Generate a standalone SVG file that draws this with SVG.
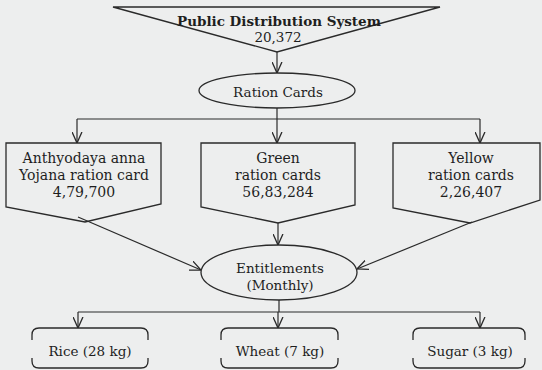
<svg xmlns="http://www.w3.org/2000/svg" width="542" height="370" viewBox="0 0 542 370">
<defs>
<marker id="arr" viewBox="0 0 10 10" refX="10" refY="5" markerWidth="11" markerHeight="11" markerUnits="userSpaceOnUse" orient="auto">
<path d="M0,0.5 L10,5 L0,9.5" fill="none" stroke="#2a2a2a" stroke-width="1.2"/>
</marker>
<style>
.s{fill:none;stroke:#2a2a2a;stroke-width:1.3;stroke-linejoin:miter}
.c{fill:none;stroke:#2a2a2a;stroke-width:1.2}
.t{font-family:"DejaVu Serif","Liberation Serif",serif;font-size:13.5px;fill:#1e1e1e;text-anchor:middle}
.p{font-size:14px}
.b{font-weight:bold;font-size:13.5px}
</style>
</defs>
<rect width="542" height="370" fill="#edeeee"/>
<g id="connectors">
<line class="c" x1="277" y1="52" x2="277" y2="73" marker-end="url(#arr)"/>
<path class="c" d="M277,108 V119 M77,119 H480"/>
<line class="c" x1="77" y1="119" x2="77" y2="143" marker-end="url(#arr)"/>
<line class="c" x1="277" y1="119" x2="277" y2="143" marker-end="url(#arr)"/>
<line class="c" x1="480" y1="119" x2="480" y2="143" marker-end="url(#arr)"/>
<line class="c" x1="78" y1="217" x2="201" y2="270" marker-end="url(#arr)"/>
<line class="c" x1="278" y1="223" x2="278" y2="245" marker-end="url(#arr)"/>
<line class="c" x1="472" y1="222" x2="357" y2="269" marker-end="url(#arr)"/>
<path class="c" d="M279,300 V312 M78,312 H480"/>
<line class="c" x1="78" y1="312" x2="78" y2="328" marker-end="url(#arr)"/>
<line class="c" x1="278" y1="312" x2="278" y2="328" marker-end="url(#arr)"/>
<line class="c" x1="480" y1="312" x2="480" y2="328" marker-end="url(#arr)"/>
</g>
<g id="pds">
<path class="s" d="M113,7 H440 L277,52 Z"/>
<text class="t b" x="279" y="26">Public Distribution System</text>
<text class="t" x="278" y="42">20,372</text>
</g>
<g id="ration-cards">
<ellipse class="s" cx="277" cy="90.5" rx="78" ry="17.5"/>
<text class="t" x="278" y="97">Ration Cards</text>
</g>
<g id="antyodaya">
<path class="s" d="M6,143 H161 V204 L85,222 L6,207 Z"/>
<text class="t p" x="84" y="163">Anthyodaya anna</text>
<text class="t p" x="84" y="180">Yojana ration card</text>
<text class="t p" x="84" y="197">4,79,700</text>
</g>
<g id="green">
<path class="s" d="M201,143 H355 V205 L278,223 L201,207 Z"/>
<text class="t p" x="278" y="163">Green</text>
<text class="t p" x="278" y="180">ration cards</text>
<text class="t p" x="278" y="197">56,83,284</text>
</g>
<g id="yellow">
<path class="s" d="M393,143 H540 V200 L470,223 L393,208 Z"/>
<text class="t p" x="471" y="163">Yellow</text>
<text class="t p" x="471" y="180">ration cards</text>
<text class="t p" x="471" y="197">2,26,407</text>
</g>
<g id="entitlements">
<ellipse class="s" cx="279" cy="272.5" rx="78" ry="27.5"/>
<text class="t" x="280" y="273">Entitlements</text>
<text class="t" x="280" y="290">(Monthly)</text>
</g>
<g id="rice">
<path class="s" d="M32,340 V335 Q32,328 39,328 H141 Q148,328 148,335 V340 M32,358 V361 Q32,368 39,368 H141 Q148,368 148,361 V358"/>
<text class="t" x="90" y="356">Rice (28 kg)</text>
</g>
<g id="wheat">
<path class="s" d="M221,340 V335 Q221,328 228,328 H331 Q338,328 338,335 V340 M221,358 V361 Q221,368 228,368 H331 Q338,368 338,361 V358"/>
<text class="t" x="280" y="356">Wheat (7 kg)</text>
</g>
<g id="sugar">
<path class="s" d="M413,340 V335 Q413,328 420,328 H518 Q525,328 525,335 V340 M413,358 V361 Q413,368 420,368 H518 Q525,368 525,361 V358"/>
<text class="t" x="470" y="356">Sugar (3 kg)</text>
</g>
</svg>
